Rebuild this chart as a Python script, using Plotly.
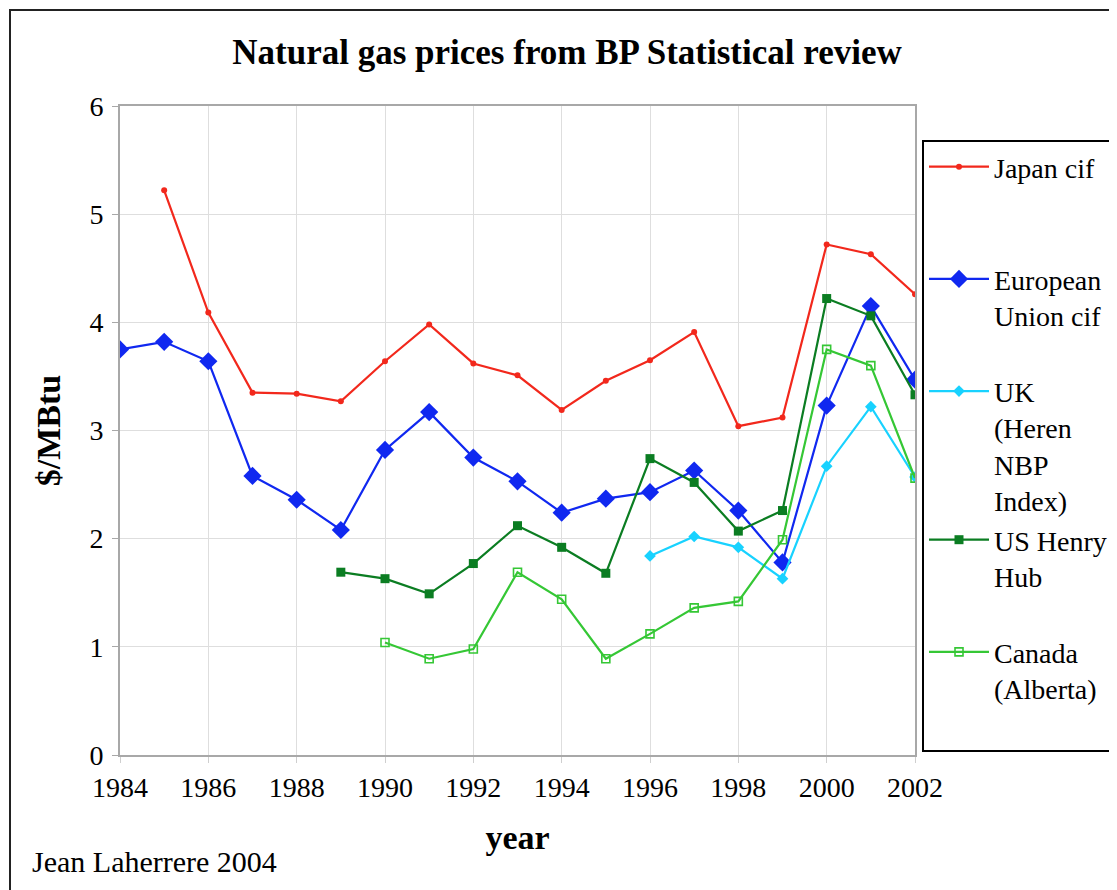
import plotly.graph_objects as go

japan_years = list(range(1985, 2003))
japan = [5.22, 4.09, 3.35, 3.34, 3.27, 3.64, 3.98, 3.62, 3.51, 3.19, 3.46, 3.65,
         3.91, 3.04, 3.12, 4.72, 4.63, 4.26]

eu_years = list(range(1984, 2003))
eu = [3.75, 3.82, 3.64, 2.58, 2.36, 2.08, 2.82, 3.17, 2.75, 2.53, 2.24, 2.37,
      2.43, 2.63, 2.26, 1.78, 3.23, 4.15, 3.47]

uk_years = list(range(1996, 2003))
uk = [1.84, 2.02, 1.92, 1.63, 2.67, 3.22, 2.57]

us_years = list(range(1989, 2003))
us = [1.69, 1.63, 1.49, 1.77, 2.12, 1.92, 1.68, 2.74, 2.52, 2.07, 2.26, 4.22,
      4.06, 3.33]

canada_years = list(range(1990, 2003))
canada = [1.04, 0.89, 0.98, 1.69, 1.44, 0.89, 1.12, 1.36, 1.42, 1.99, 3.75,
          3.60, 2.56]

x_ticks = [1984, 1986, 1988, 1990, 1992, 1994, 1996, 1998, 2000, 2002]
y_ticks = [0, 1, 2, 3, 4, 5, 6]

FONT = "Liberation Serif"
NB = "&nbsp;"

series = [
    ("Japan cif" + ("<br>" + NB) * 2, japan_years, japan, "#f2281c",
     dict(symbol="circle", size=6)),
    ("European<br>Union cif" + ("<br>" + NB), eu_years, eu, "#1028f0",
     dict(symbol="diamond", size=14)),
    ("UK<br>(Heren<br>NBP<br>Index)", uk_years, uk, "#18d2ff",
     dict(symbol="diamond", size=9)),
    ("US Henry<br>Hub" + ("<br>" + NB), us_years, us, "#0b7d22",
     dict(symbol="square", size=9)),
    ("Canada<br>(Alberta)" + ("<br>" + NB), canada_years, canada, "#35c735",
     dict(symbol="square-open", size=8, line=dict(width=1.6))),
]

fig = go.Figure()
for name, xs, ys, color, mk in series:
    fig.add_trace(go.Scatter(
        x=xs, y=ys, name=name, mode="lines+markers",
        line=dict(color=color, width=2.2),
        marker=dict(color=color, **mk),
    ))

# page is drawn with an 8px body margin; targets below are page pixels
OFF = 8
W, H = 1117, 890
L, R, T, B = 120 - OFF, W - (915 - OFF), 106 - OFF, H - (755 - OFF)
pw, ph = W - L - R, H - T - B

def px_x(px):
    return (px - OFF - L) / pw

def px_y(py):
    return (H - B - (py - OFF)) / ph

fig.update_layout(
    width=W, height=H,
    margin=dict(l=L, r=R, t=T, b=B, autoexpand=False),
    paper_bgcolor="white", plot_bgcolor="white",
    font=dict(family=FONT, size=28, color="black"),
    title=dict(text="<b>Natural gas prices from BP Statistical review</b>",
               font=dict(family=FONT, size=35, color="black"),
               x=px_x(567), xref="paper", xanchor="center",
               y=1 - (52 - OFF) / H, yanchor="middle"),
    showlegend=True,
    legend=dict(
        x=px_x(922), y=px_y(140),
        xanchor="left", yanchor="top",
        bordercolor="black", borderwidth=2, bgcolor="rgba(255,255,255,0)",
        font=dict(family=FONT, size=28, color="black"),
        valign="top", itemwidth=60, tracegroupgap=0,
    ),
    xaxis=dict(
        range=[1984, 2002], tickvals=x_ticks, ticktext=[str(v) for v in x_ticks],
        showgrid=True, gridcolor="#dedede", gridwidth=1,
        showline=True, linecolor="#a8a8a8", linewidth=2, mirror=True,
        ticks="outside", ticklen=6, tickcolor="#cfcfcf", tickwidth=1,
        tickfont=dict(family=FONT, size=28), ticklabelstandoff=0,
        zeroline=False,
        title=dict(text="<b>year</b>", font=dict(family=FONT, size=34), standoff=24),
    ),
    yaxis=dict(
        range=[0, 6], tickvals=y_ticks,
        showgrid=True, gridcolor="#dedede", gridwidth=1,
        showline=True, linecolor="#a8a8a8", linewidth=2, mirror=True,
        ticks="outside", ticklen=6, tickcolor="#a8a8a8", tickwidth=1,
        tickfont=dict(family=FONT, size=28), ticklabelstandoff=3,
        zeroline=False,
        title=dict(text="<b>$/MBtu</b>", font=dict(family=FONT, size=34), standoff=19),
    ),
    annotations=[
        dict(text="Jean Laherrere 2004", xref="paper", yref="paper",
             x=px_x(30), y=px_y(862), xanchor="left",
             yanchor="middle", showarrow=False,
             font=dict(family=FONT, size=30, color="black")),
    ],
    shapes=[
        dict(type="rect", xref="paper", yref="paper",
             x0=px_x(10), x1=px_x(1300),
             y0=px_y(1000), y1=px_y(10),
             line=dict(color="#222222", width=2), layer="below"),
    ],
)

fig.write_html("out.html")
